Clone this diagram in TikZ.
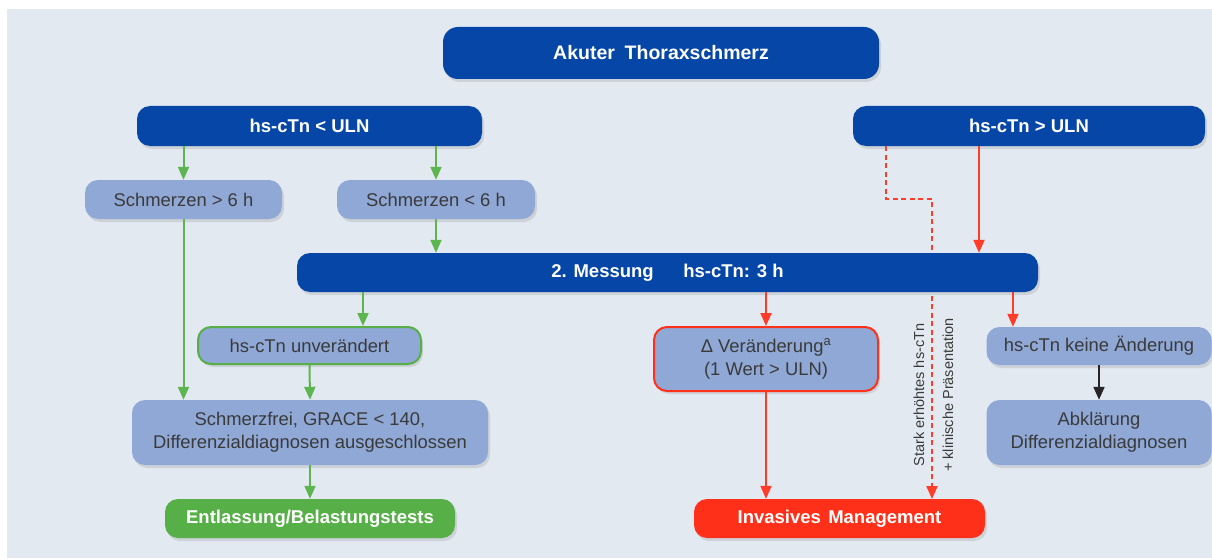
\documentclass[tikz,border=0pt]{standalone}
\usepackage{fontspec}
\setmainfont{Liberation Sans}
\usetikzlibrary{arrows.meta,shadows}
\definecolor{bg}{HTML}{E3E9F1}
\definecolor{dblue}{HTML}{0546A6}
\definecolor{lblue}{HTML}{8FA8D6}
\definecolor{txt}{HTML}{3A3A3A}
\definecolor{cgreen}{HTML}{57B047}
\definecolor{agreen}{HTML}{5CB54E}
\definecolor{cred}{HTML}{FF3019}
\definecolor{ared}{HTML}{FF3B2A}
\begin{document}
\begin{tikzpicture}[x=1pt,y=-1pt,
 box/.style={rectangle, rounded corners=13pt, drop shadow={shadow xshift=2pt,shadow yshift=-3pt,opacity=0.22}, align=center, inner sep=0pt},
 darkbox/.style={box, fill=dblue, text=white, font=\bfseries\fontsize{18.5}{22}\selectfont},
 lightbox/.style={box, fill=lblue, text=txt, font=\fontsize{18.4}{23}\selectfont},
 greenbox/.style={box, fill=cgreen, text=white, font=\bfseries\fontsize{18.5}{22}\selectfont},
 redbox/.style={box, fill=cred, text=white, font=\bfseries\fontsize{18.5}{22}\selectfont},
 tip/.style={-{Triangle[width=11pt,length=13pt]}},
 garrow/.style={draw=agreen, line width=2pt, tip},
 rarrow/.style={draw=ared, line width=2pt, tip},
 karrow/.style={draw=black!85, line width=2pt, tip},
 dasharrow/.style={draw=ared, line width=2pt, dash pattern=on 5pt off 3.5pt, tip},
 sidelabel/.style={text=txt, font=\fontsize{14.5}{29}\selectfont, align=center, rotate=90, inner sep=0pt},
]
\useasboundingbox (0,0) rectangle (1212,559);
\fill[white] (0,0) rectangle (1212,559);
\fill[bg] (7,9) rectangle (1212,558);

% helper coordinates for connector x positions
\coordinate (c363) at (363,0);
\coordinate (c979) at (979,0);
\coordinate (c1013) at (1013,0);
\coordinate (d1) at (886,199);
\coordinate (dmid) at (932,199);

% dashed connector (behind boxes)
\draw[dasharrow] (d1 |- 0,146) -- (d1) -- (dmid) -- (dmid |- 0,499);

% nodes
\node[darkbox, minimum width=436pt, minimum height=52pt, rounded corners=15pt, font=\bfseries\fontsize{19.5}{22}\selectfont] (top) at (661,53) {Akuter\hspace{0.5em}Thoraxschmerz};
\node[darkbox, minimum width=345pt, minimum height=40pt] (hsl) at (309.5,126) {hs-cTn < ULN};
\node[darkbox, minimum width=352pt, minimum height=40pt] (hsh) at (1029,126) {hs-cTn > ULN};
\node[lightbox, minimum width=197pt, minimum height=39pt] (gt6) at (183.5,199.5) {Schmerzen > 6 h};
\node[lightbox, minimum width=198pt, minimum height=39pt] (lt6) at (436,199.5) {Schmerzen < 6 h};
\node[darkbox, minimum width=741pt, minimum height=39pt] (mess) at (667.5,272.5) {2. Messung\hspace{1.6em}hs-cTn: 3 h};
\node[lightbox, draw=cgreen, line width=2pt, minimum width=223pt, minimum height=37pt] (unv) at (309.5,345.5) {hs-cTn unverändert};
\node[lightbox, draw=cred, line width=2pt, minimum width=224pt, minimum height=64pt] (ver) at (766,359) {Δ Veränderung\textsuperscript{a}\\(1 Wert > ULN)};
\node[lightbox, minimum width=225pt, minimum height=38pt] (kein) at (1099,346) {hs-cTn keine Änderung};
\node[lightbox, minimum width=225pt, minimum height=65pt] (abk) at (1099,432.5) {Abklärung\\Differenzialdiagnosen};
\node[lightbox, minimum width=356pt, minimum height=65pt] (sfrei) at (310,432.5) {Schmerzfrei, GRACE < 140,\\Differenzialdiagnosen ausgeschlossen};
\node[greenbox, minimum width=290pt, minimum height=39pt] (ent) at (310,518.5) {Entlassung/Belastungstests};
\node[redbox, minimum width=291pt, minimum height=39pt] (inv) at (839.5,518.5) {Invasives\hspace{0.4em}Management};

\node[sidelabel] (side) at (933.5,395) {Stark erhöhtes hs-cTn\\+ klinische Präsentation};

% connectors
\draw[garrow] (hsl.south -| gt6.north) -- (gt6.north);
\draw[garrow] (hsl.south -| lt6.north) -- (lt6.north);
\draw[garrow] (lt6.south) -- (lt6.south |- mess.north);
\draw[garrow] (gt6.south) -- (gt6.south |- sfrei.north);
\draw[garrow] (mess.south -| c363) -- (unv.north -| c363);
\draw[garrow] (unv.south) -- (sfrei.north);
\draw[garrow] (sfrei.south) -- (ent.north);
\draw[rarrow] (mess.south -| ver.north) -- (ver.north);
\draw[rarrow] (ver.south) -- (ver.south |- inv.north);
\draw[rarrow] (hsh.south -| c979) -- (mess.north -| c979);
\draw[rarrow] (mess.south -| c1013) -- (kein.north -| c1013);
\draw[karrow] (kein.south) -- (abk.north);
\end{tikzpicture}
\end{document}
